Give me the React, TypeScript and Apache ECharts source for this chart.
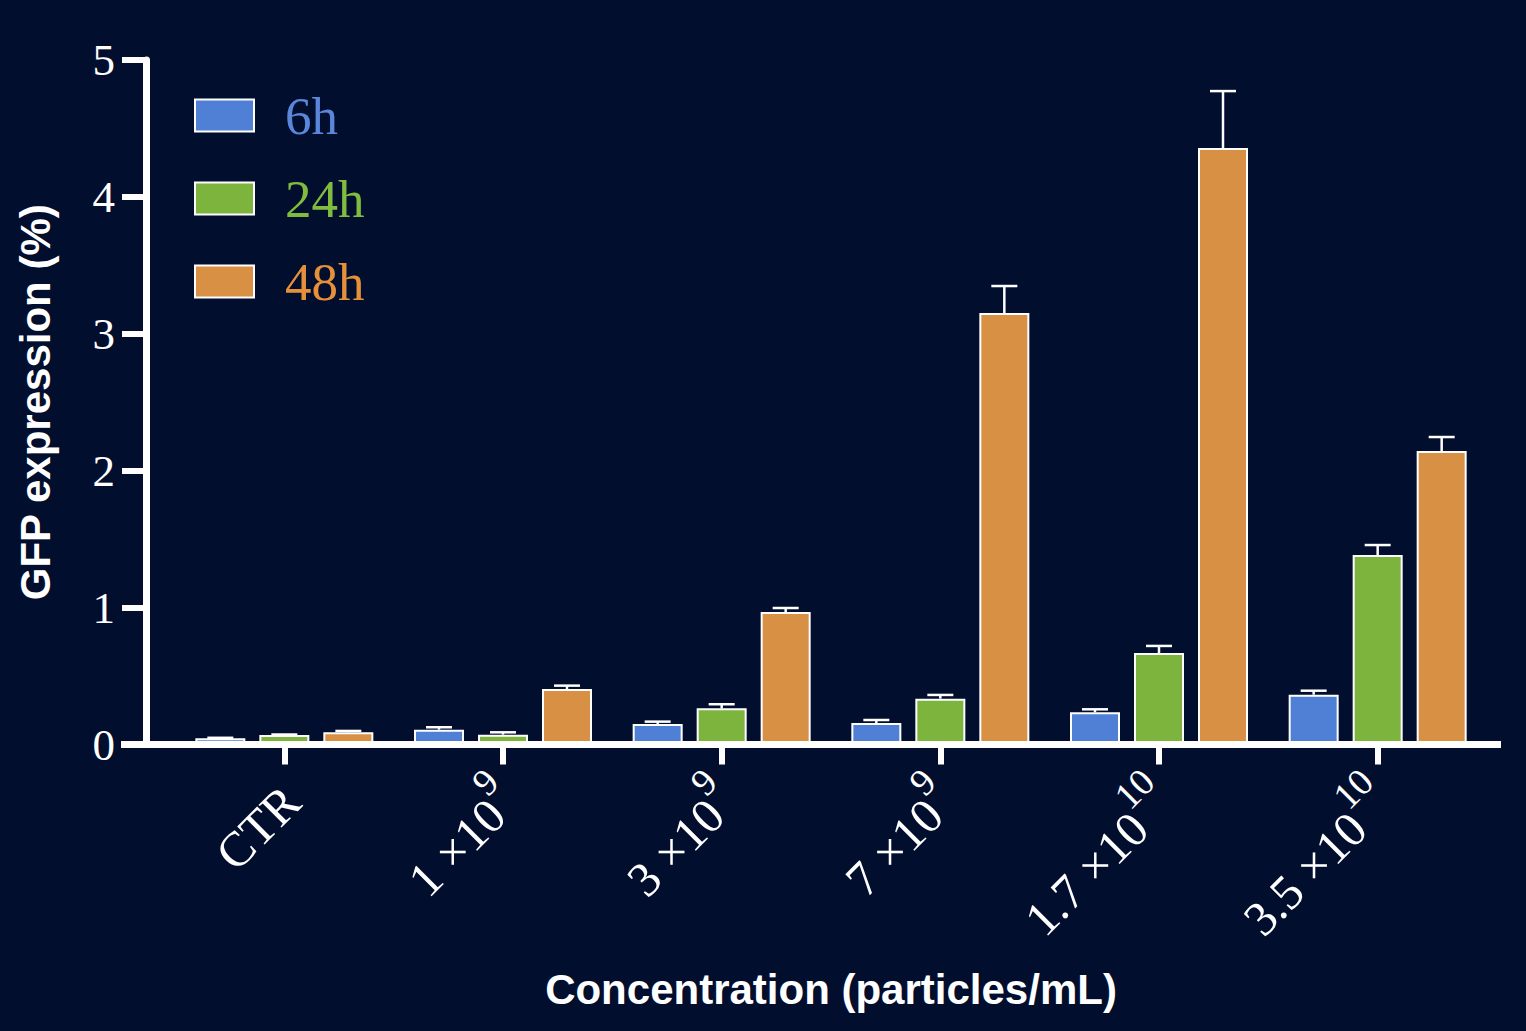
import React, { useEffect, useRef } from "react";
import * as echarts from "echarts";

const categories = ["CTR", "1e9", "3e9", "7e9", "1.7e10", "3.5e10"];
const labelBase = ["CTR", "1 ×10", "3 ×10", "7 ×10", "1.7 ×10", "3.5 ×10"];
const labelExp = ["", "9", "9", "9", "10", "10"];
const seriesNames = ["6h", "24h", "48h"];
const mean6h = [0.045, 0.108, 0.15, 0.157, 0.235, 0.364];
const sd6h = [0.004, 0.018, 0.017, 0.022, 0.022, 0.029];
const mean24h = [0.069, 0.072, 0.264, 0.335, 0.668, 1.384];
const sd24h = [0.004, 0.017, 0.03, 0.027, 0.052, 0.073];
const mean48h = [0.089, 0.405, 0.968, 3.152, 4.357, 2.144];
const sd48h = [0.01, 0.025, 0.029, 0.197, 0.416, 0.102];
const yTicks = [0, 1, 2, 3, 4, 5];

const BG = "#020E2E";
const barColors = ["#5080D6", "#7DB43E", "#D79044"];
const textColors = ["#5A87DA", "#80BC3E", "#E69039"];
const SERIF = "'Liberation Serif', 'DejaVu Serif', serif";
const SANS = "'Liberation Sans', Arial, sans-serif";
const BAR_W = 50;
const BAR_GAP = 14;

export default function App() {
  const ref = useRef<HTMLDivElement>(null);
  useEffect(() => {
    document.body.style.margin = "0";
    document.body.style.background = BG;
    if (!ref.current) return;
    const chart = echarts.init(ref.current, undefined, { renderer: "svg" });
    const means = [mean6h, mean24h, mean48h];
    const sds = [sd6h, sd24h, sd48h];

    const barSeries = seriesNames.map((name, k) => ({
      name,
      type: "bar",
      data: means[k],
      barWidth: BAR_W,
      barGap: `${(BAR_GAP / BAR_W) * 100}%`,
      itemStyle: { color: barColors[k], borderColor: "#FFFFFF", borderWidth: 2 },
      z: 2,
    }));

    const errSeries = seriesNames.map((name, k) => ({
      name: "err-" + name,
      type: "custom",
      z: 3,
      encode: { x: 0, y: [1, 2] },
      data: categories.map((_, i) => [i, means[k][i], means[k][i] + sds[k][i]]),
      renderItem: (params: any, api: any) => {
        const i = api.value(0);
        const m = api.value(1);
        const t = api.value(2);
        const p0 = api.coord([i, m]);
        const p1 = api.coord([i, t]);
        const x = p0[0] + (k - 1) * (BAR_W + BAR_GAP);
        const st = { stroke: "#FFFFFF", lineWidth: 2.5 };
        return {
          type: "group",
          children: [
            { type: "line", shape: { x1: x, y1: p0[1], x2: x, y2: p1[1] }, style: st },
            { type: "line", shape: { x1: x - 13, y1: p1[1], x2: x + 13, y2: p1[1] }, style: st },
          ],
        };
      },
    }));

    chart.setOption({
      animation: false,
      backgroundColor: BG,
      grid: { left: 175, right: 39, top: 60, bottom: 286.5, containLabel: false },
      legend: {
        orient: "vertical",
        left: 189,
        top: 84,
        itemWidth: 59,
        itemHeight: 32,
        itemGap: 30,
        icon: "rect",
        data: seriesNames.map((n, k) => ({ name: n, textStyle: { color: textColors[k] } })),
        textStyle: { fontFamily: SERIF, fontSize: 53, lineHeight: 52, padding: [0, 0, 0, 26] },
      },
      xAxis: {
        type: "category",
        data: categories,
        axisLine: { show: false },
        axisTick: { show: true, alignWithLabel: true, length: 20, lineStyle: { color: "#FFFFFF", width: 6 } },
        axisLabel: {
          rotate: 45,
          margin: 42,
          color: "#FFFFFF",
          interval: 0,
          formatter: (_v: string, idx: number) =>
            labelExp[idx] ? `{n|${labelBase[idx]}}{s|${labelExp[idx]}}` : `{n|${labelBase[idx]}}`,
          rich: {
            n: { fontFamily: SERIF, fontSize: 49, color: "#FFFFFF", verticalAlign: "bottom", lineHeight: 70 },
            s: { fontFamily: SERIF, fontSize: 38, color: "#FFFFFF", verticalAlign: "top", lineHeight: 70 },
          },
        },
        name: "Concentration (particles/mL)",
        nameLocation: "middle",
        nameGap: 224,
        nameTextStyle: { fontFamily: SANS, fontWeight: "bold", fontSize: 42, color: "#FFFFFF" },
      },
      yAxis: {
        type: "value",
        min: yTicks[0],
        max: yTicks[yTicks.length - 1],
        interval: 1,
        offset: 29,
        splitLine: { show: false },
        axisLine: { show: true, lineStyle: { color: "#FFFFFF", width: 7 } },
        axisTick: { show: true, length: 24, lineStyle: { color: "#FFFFFF", width: 6 } },
        axisLabel: { color: "#FFFFFF", fontFamily: SERIF, fontSize: 45, margin: 31 },
        name: "GFP expression (%)",
        nameLocation: "middle",
        nameRotate: 90,
        nameGap: 90,
        nameTextStyle: { fontFamily: SANS, fontWeight: "bold", fontSize: 42, color: "#FFFFFF" },
      },
      graphic: [
        {
          type: "line",
          z: 100,
          shape: { x1: 121, y1: 744.5, x2: 1501, y2: 744.5 },
          style: { stroke: "#FFFFFF", lineWidth: 7 },
        },
      ],
      series: [...barSeries, ...errSeries],
    });
    return () => chart.dispose();
  }, []);
  return (
    <div
      ref={ref}
      style={{ position: "fixed", left: 0, top: 0, width: "1526px", height: "1031px" }}
    />
  );
}
